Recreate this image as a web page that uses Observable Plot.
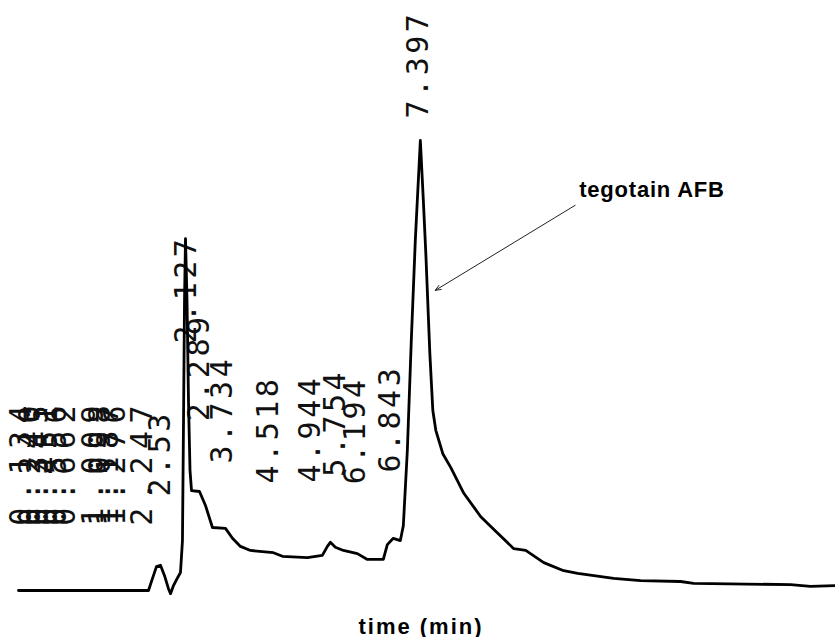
<!DOCTYPE html>
<html>
<head>
<meta charset="utf-8">
<script src="https://cdn.jsdelivr.net/npm/d3@7"></script>
<script src="https://cdn.jsdelivr.net/npm/@observablehq/plot@0.6"></script>
<style>
  html, body { margin: 0; padding: 0; background: #fff; }
  #chart svg { display: block; }
</style>
</head>
<body>
<div id="chart"></div>
<script>
// Chromatogram trace: retention time (min) and detector signal (relative units)
const traceTime = [
  0.097, 1.677, 1.726, 1.774, 1.823, 1.872, 1.920, 1.945, 1.981, 2.018, 2.066, 2.090, 2.103, 2.115, 2.127,
  2.161, 2.194, 2.228, 2.262, 2.441, 2.575, 2.732, 3.024, 3.181, 3.360, 3.584, 4.100, 4.302, 4.862, 5.198,
  5.311, 5.378, 5.490, 5.670, 5.984, 6.208, 6.566, 6.656, 6.790, 6.948, 7.015, 7.105, 7.194, 7.284, 7.397,
  7.464, 7.520, 7.610, 7.677, 7.744, 7.901, 8.081, 8.372, 8.753, 9.134, 9.493, 9.762, 10.166, 10.614, 10.928,
  11.735, 12.341, 13.238, 13.529, 15.704, 16.152, 16.713
];
const traceSignal = [
  0, 0, 2.7, 5.3, 5.6, 3.3, 0.4, -0.7, 1.1, 2.4, 4.0, 11.1, 37.8, 64.4, 78.2,
  64.4, 42.2, 26.7, 22.2, 22.0, 18.9, 14.0, 13.8, 11.6, 9.8, 8.9, 8.4, 7.6, 7.3, 7.8,
  9.8, 10.7, 9.6, 8.9, 8.2, 6.9, 6.9, 10.2, 11.6, 11.1, 14.4, 31.1, 55.6, 77.8, 100,
  86.7, 74.9, 52.7, 40.0, 35.6, 30.4, 27.3, 21.6, 16.4, 12.7, 9.3, 8.9, 6.2, 4.4, 3.8,
  2.7, 2.2, 2.0, 1.6, 1.3, 0.9, 1.1
];

// Crowded early peak labels (printed at their retention times)
const earlyLabels = ["0.134", "0.240", "0.345", "0.451", "0.556", "0.662", "1.009", "1.098", "1.187", "1.276", "2.247"];
const earlyLabelAt = [0.134, 0.240, 0.345, 0.451, 0.556, 0.662, 1.009, 1.098, 1.187, 1.276, 1.604];
const earlyLabelBase = [14.4, 14.4, 14.4, 14.4, 14.4, 14.4, 14.4, 14.4, 14.4, 14.4, 14.4];

// Other printed retention-time labels: text, where printed (min), and signal level of their foot
const peakLabels = ["2.53", "2.127", "2.289", "3.734", "4.518", "4.944", "5.754", "6.194", "6.843", "7.397"];
const peakLabelAt = [1.823, 2.149, 2.441, 2.957, 3.988, 4.929, 5.487, 5.929, 6.714, 7.364];
const peakLabelBase = [20.9, 54.9, 37.6, 28.2, 23.8, 24.0, 25.3, 23.6, 26.2, 104.9];

// Annotation
const annotationText = ["tegotain AFB"];
const annotationAt = [10.96];
const annotationLevel = [88.9];
const arrowFrom = [10.871, 85.6];
const arrowTo = [7.732, 66.7];
const xLabel = "time (min)";

const trace = traceTime.map((t, i) => ({t, v: traceSignal[i]}));
const early = earlyLabels.map((s, i) => ({s, t: earlyLabelAt[i], v: earlyLabelBase[i]}));
const peaks = peakLabels.map((s, i) => ({s, t: peakLabelAt[i], v: peakLabelBase[i]}));
const annot = annotationText.map((s, i) => ({s, t: annotationAt[i], v: annotationLevel[i]}));

const mono = "DejaVu Sans Mono, monospace";
const sans = "Liberation Sans, Arial, sans-serif";

const chart = Plot.plot({
  width: 835,
  height: 637,
  marginTop: 0, marginRight: 0, marginBottom: 0, marginLeft: 0,
  x: {type: "linear", domain: [0, 2.127, 16.713], range: [10, 185, 835], axis: null},
  y: {type: "linear", domain: [0, 100], range: [590, 140], axis: null},
  marks: [
    Plot.text(early, {x: "t", y: "v", text: "s", rotate: -90, textAnchor: "start",
      fontFamily: mono, fontSize: 30, fill: "#111"}),
    Plot.text(peaks, {x: "t", y: "v", text: "s", rotate: -90, textAnchor: "start",
      fontFamily: mono, fontSize: 30, fill: "#111"}),
    Plot.line(trace, {x: "t", y: "v", stroke: "#000", strokeWidth: 2.8, strokeLinejoin: "round"}),
    Plot.arrow([{}], {x1: () => arrowFrom[0], y1: () => arrowFrom[1], x2: () => arrowTo[0], y2: () => arrowTo[1],
      bend: 0, stroke: "#222", strokeWidth: 1, headLength: 9, headAngle: 45}),
    Plot.text(annot, {x: "t", y: "v", text: "s", textAnchor: "start", fontFamily: sans,
      fontWeight: "bold", fontSize: 22, fill: "#000"}),
    Plot.text([xLabel], {frameAnchor: "bottom", text: d => d, lineAnchor: "bottom", dy: -4, dx: 3,
      fontFamily: sans, fontWeight: "bold", fontSize: 22, fill: "#000"})
  ]
});

const textGroups = chart.querySelectorAll('g[aria-label="text"]');
if (textGroups[0]) textGroups[0].setAttribute("letter-spacing", "7.5");
if (textGroups[1]) textGroups[1].setAttribute("letter-spacing", "3.5");
if (textGroups[2]) textGroups[2].setAttribute("letter-spacing", "0.8");
if (textGroups[3]) textGroups[3].setAttribute("letter-spacing", "2");

document.getElementById("chart").appendChild(chart);
</script>
</body>
</html>
